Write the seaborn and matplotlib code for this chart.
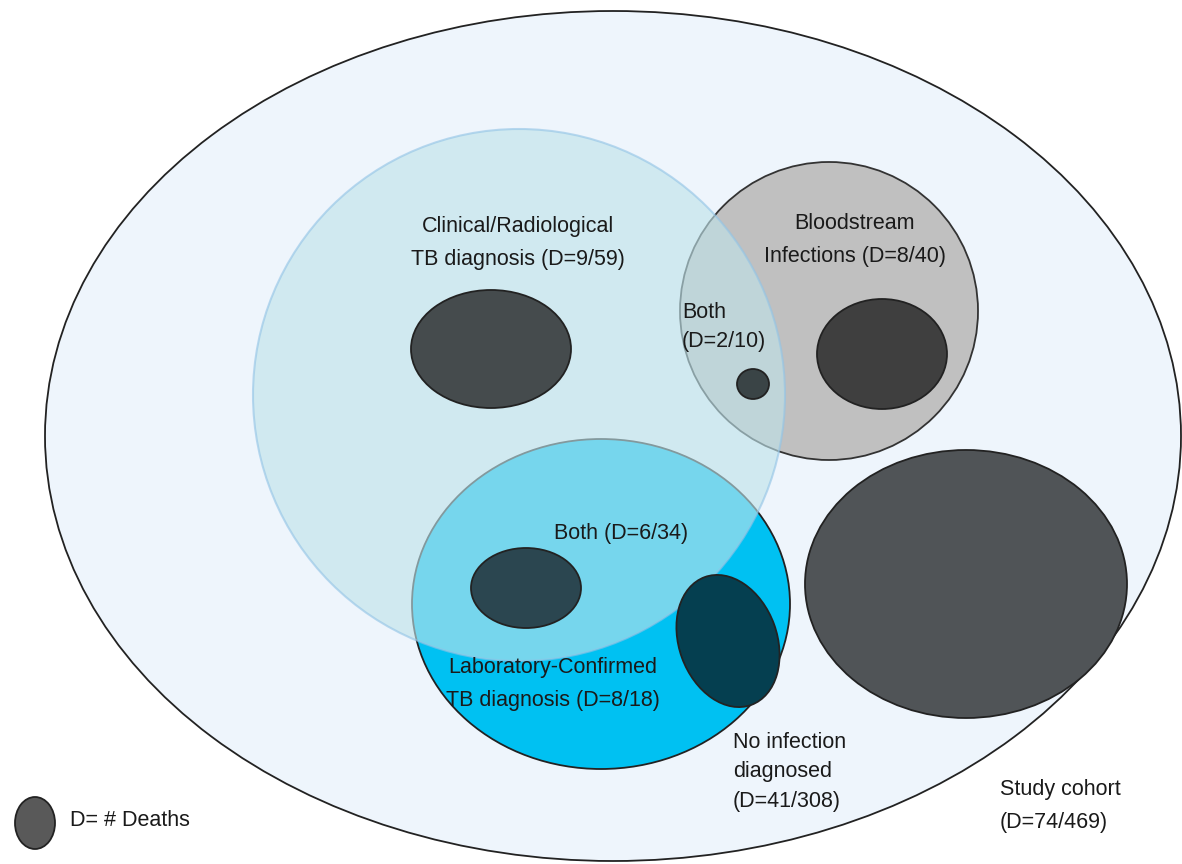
import matplotlib.pyplot as plt
import seaborn as sns
from matplotlib.patches import Ellipse

# groups: deaths / totals
groups = ['Study cohort', 'Clinical/Radiological', 'Bloodstream', 'Laboratory-Confirmed',
          'Both clin+BSI', 'Both clin+lab', 'No infection']
deaths = [74, 9, 8, 8, 2, 6, 41]
totals = [469, 59, 40, 18, 10, 34, 308]
D = dict(zip(groups, zip(deaths, totals)))

sns.set_theme(style='white')
plt.rcParams['font.family'] = ['Liberation Sans', 'DejaVu Sans']

fig = plt.figure(figsize=(11.82, 8.64), dpi=100)
ax = fig.add_axes([0, 0, 1, 1])
ax.set_xlim(0, 1182)
ax.set_ylim(864, 0)
ax.set_aspect('equal')
ax.axis('off')


def ell(cx, cy, w, h, fc, ec='#222222', lw=1.3, alpha=1.0, angle=0, z=1):
    ax.add_patch(Ellipse((cx, cy), w, h, angle=angle, facecolor=fc, edgecolor=ec,
                         lw=lw, alpha=alpha, zorder=z))


# big sets
ell(613, 436, 1136, 850, '#eef5fc', z=1)
ell(601, 604, 378, 330, '#00c1f2', z=2)
ell(829, 311, 298, 298, '#c0c0c0', ec='#333333', z=2)
ell(519, 395, 532, 532, '#bfe3ea', ec='#93c4e6', lw=1.5, alpha=0.62, z=3)

# deaths
ell(491, 349, 160, 118, '#454b4d', z=4)
ell(882, 354, 130, 110, '#3f3f3f', z=4)
ell(753, 384, 32, 30, '#3a4446', z=4)
ell(526, 588, 110, 80, '#2b4650', z=4)
ell(728, 641, 98, 136, '#053f50', angle=-20, z=4)
ell(966, 584, 322, 268, '#505457', z=4)
ell(35, 823, 40, 52, '#595959', z=4)

txt = dict(fontsize=15.5, color='#1a1a1a', zorder=6, linespacing=1.75)
d, n = D['Clinical/Radiological']
ax.text(518, 243, f'Clinical/Radiological\nTB diagnosis (D={d}/{n})', ha='center', va='center', **txt)
d, n = D['Bloodstream']
ax.text(855, 240, f'Bloodstream\nInfections (D={d}/{n})', ha='center', va='center', **txt)
d, n = D['Both clin+BSI']
ax.text(682, 327, f'Both\n(D={d}/{n})', ha='left', va='center',
        **{**txt, 'linespacing': 1.5})
d, n = D['Both clin+lab']
ax.text(621, 533, f'Both (D={d}/{n})', ha='center', va='center', **txt)
d, n = D['Laboratory-Confirmed']
ax.text(553, 684, f'Laboratory-Confirmed\nTB diagnosis (D={d}/{n})', ha='center', va='center', **txt)
d, n = D['No infection']
ax.text(733, 772, f'No infection\ndiagnosed\n(D={d}/{n})', ha='left', va='center',
        **{**txt, 'linespacing': 1.55})
d, n = D['Study cohort']
ax.text(1000, 806, f'Study cohort\n(D={d}/{n})', ha='left', va='center', **txt)
ax.text(70, 821, 'D= # Deaths', ha='left', va='center', **txt)

fig.savefig('out.png', dpi=100)
